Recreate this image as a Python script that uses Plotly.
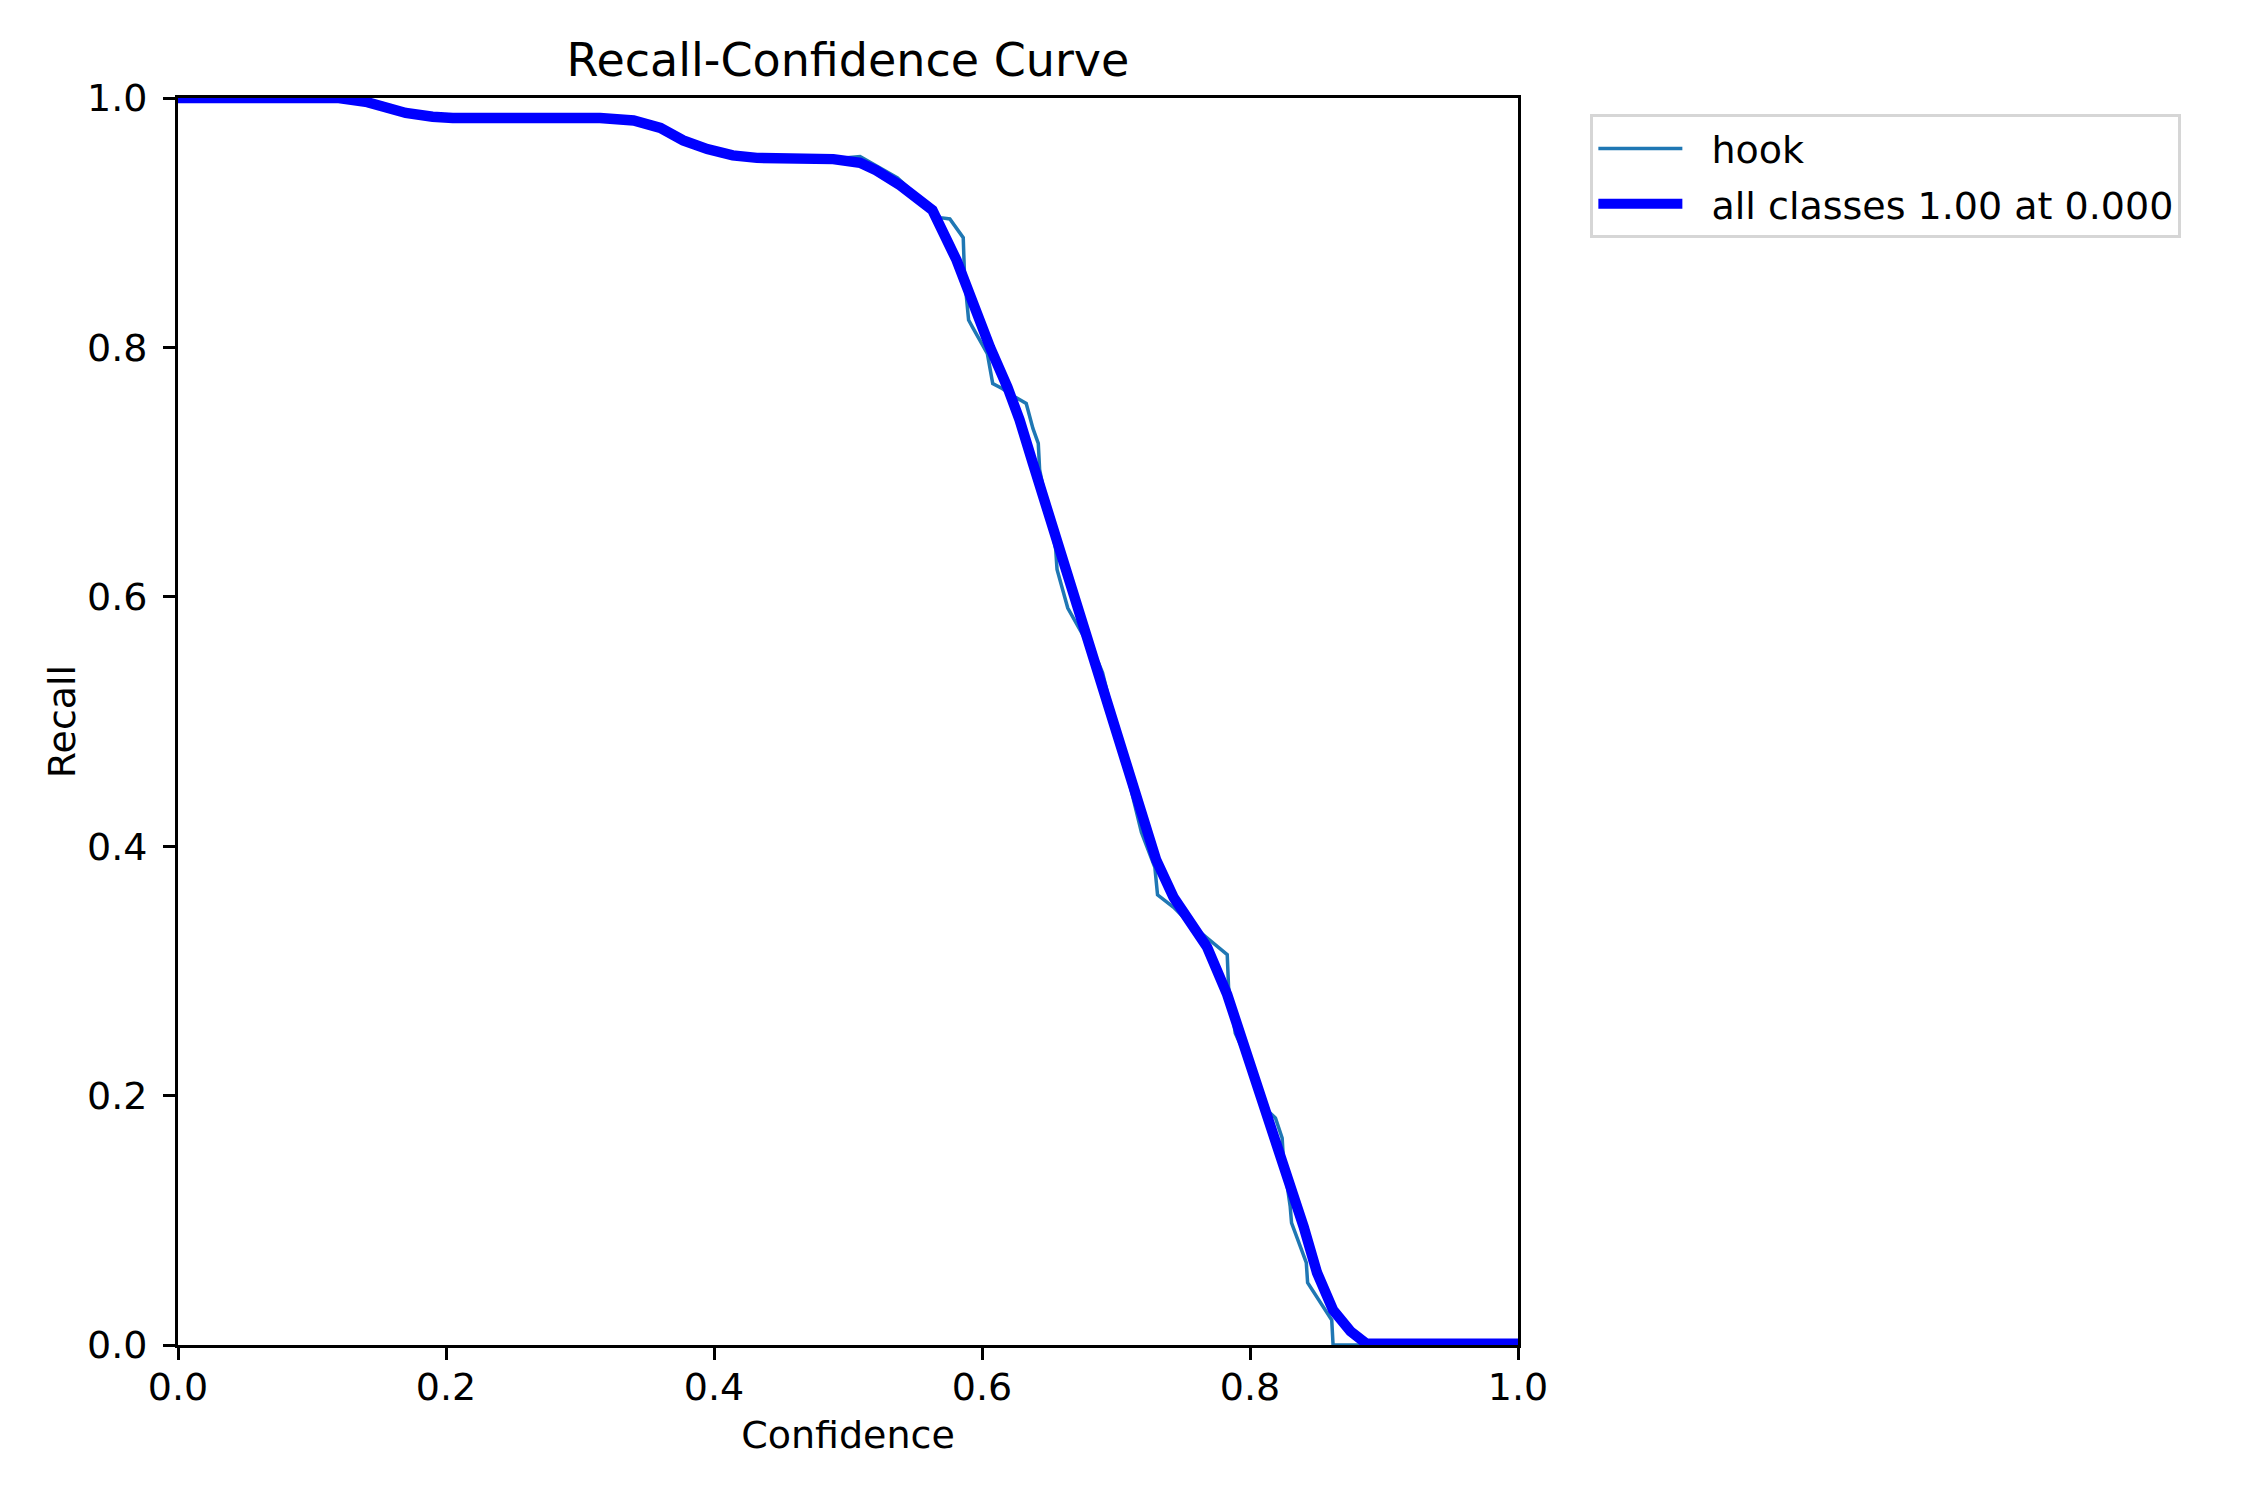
import plotly.graph_objects as go

# ---- data ----
hook_conf = [0.0, 0.12, 0.14, 0.155, 0.17, 0.19, 0.205, 0.315, 0.340, 0.360, 0.377,
             0.395, 0.414, 0.432, 0.489,
             0.509, 0.537, 0.561, 0.569, 0.576, 0.586, 0.587, 0.590, 0.593, 0.604,
             0.608, 0.615, 0.625, 0.633, 0.638, 0.642, 0.643, 0.655, 0.656, 0.664,
             0.687, 0.690, 0.719, 0.729, 0.731, 0.743, 0.755, 0.768, 0.783, 0.784,
             0.789, 0.795, 0.813, 0.819, 0.824, 0.825, 0.830, 0.831, 0.842, 0.843,
             0.861, 0.862, 1.0]
hook_recall = [1.0, 1.0, 0.997, 0.992, 0.988, 0.985, 0.984, 0.984, 0.982, 0.976, 0.966,
               0.959, 0.954, 0.952, 0.951,
               0.953, 0.936, 0.912, 0.904, 0.903, 0.888, 0.856, 0.822, 0.816, 0.795,
               0.771, 0.767, 0.760, 0.755, 0.735, 0.723, 0.702, 0.638, 0.622, 0.591,
               0.547, 0.539, 0.411, 0.383, 0.361, 0.351, 0.338, 0.326, 0.313, 0.287,
               0.250, 0.236, 0.188, 0.182, 0.166, 0.148, 0.111, 0.098, 0.066, 0.050,
               0.020, 0.0, 0.0]

all_conf = [0.0, 0.12, 0.14, 0.155, 0.17, 0.19, 0.205, 0.315, 0.340, 0.360, 0.377,
            0.395, 0.414, 0.432, 0.489, 0.509, 0.521, 0.539, 0.559, 0.563, 0.581,
            0.589, 0.606, 0.619, 0.628, 0.638, 0.651, 0.671, 0.688, 0.703, 0.718,
            0.730, 0.743, 0.757, 0.768, 0.783, 0.798, 0.810, 0.825, 0.840, 0.850,
            0.862, 0.875, 0.887, 1.0]
all_recall = [1.0, 1.0, 0.997, 0.992, 0.988, 0.985, 0.984, 0.984, 0.982, 0.976, 0.966,
              0.959, 0.954, 0.952, 0.951, 0.948, 0.942, 0.930, 0.914, 0.910, 0.870,
              0.846, 0.800, 0.768, 0.742, 0.707, 0.662, 0.587, 0.533, 0.480, 0.427,
              0.389, 0.359, 0.337, 0.319, 0.281, 0.233, 0.196, 0.143, 0.095, 0.058,
              0.028, 0.011, 0.001, 0.001]

tick_vals = [0.0, 0.2, 0.4, 0.6, 0.8, 1.0]
tick_text = ["0.0", "0.2", "0.4", "0.6", "0.8", "1.0"]

FONT = "DejaVu Sans"
FS = 38
NB = "\u00a0\u00a0"

fig = go.Figure()
fig.add_trace(go.Scatter(x=hook_conf, y=hook_recall, mode="lines", name=NB + "hook",
                         line=dict(color="#1f77b4", width=3.5), legendgroup="a"))
fig.add_trace(go.Scatter(x=all_conf, y=all_recall, mode="lines",
                         name=NB + "all classes 1.00 at 0.000",
                         line=dict(color="#0000ff", width=10.4), legendgroup="b"))

axis_common = dict(range=[0, 1], tickvals=tick_vals, ticktext=tick_text,
                   showgrid=False, zeroline=False, showline=True, mirror=True,
                   linecolor="black", linewidth=2.8, ticks="outside", ticklen=12,
                   tickwidth=2.8, tickcolor="black",
                   tickfont=dict(family=FONT, size=FS, color="black"))

fig.update_layout(
    width=2250, height=1500,
    margin=dict(l=178, r=732, t=98, b=155, autoexpand=False),
    paper_bgcolor="white", plot_bgcolor="white",
    font=dict(family=FONT, size=FS, color="black"),
    title=dict(text="Recall-Confidence Curve", x=0.5, xref="paper", xanchor="center",
               y=1 - 60 / 1500, yref="container", yanchor="middle",
               font=dict(family=FONT, size=46, color="black")),
    xaxis=dict(**axis_common, title=dict(text="Confidence", standoff=14,
                                         font=dict(family=FONT, size=FS)),
               ticklabelstandoff=-6),
    yaxis=dict(**axis_common, title=dict(text="Recall", standoff=0,
                                         font=dict(family=FONT, size=FS)),
               ticklabelstandoff=8),
    legend=dict(x=1.054, y=0.987, xanchor="left", yanchor="top",
                bgcolor="white", bordercolor="#d6d6d6", borderwidth=3,
                font=dict(family=FONT, size=FS, color="black"),
                itemwidth=84, tracegroupgap=3),
    showlegend=True,
)

fig.write_html("out.html")
